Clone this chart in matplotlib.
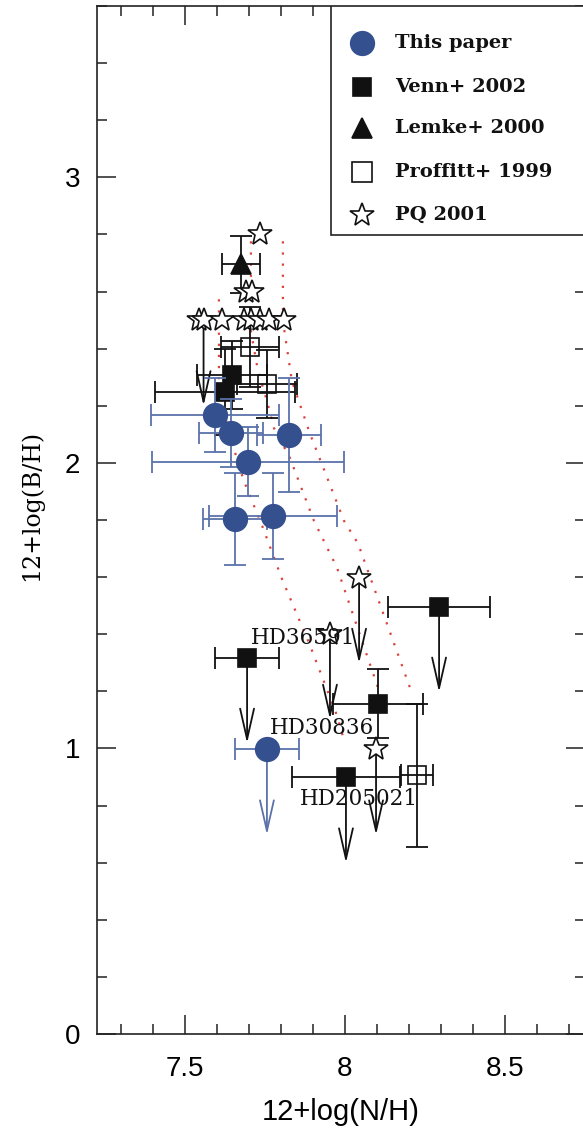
import matplotlib
matplotlib.use('Agg')
import matplotlib.pyplot as plt
from matplotlib.patches import Rectangle
from matplotlib.ticker import MultipleLocator, FormatStrFormatter

# ---------------- data ----------------
# This paper
this_x = [7.594, 7.644, 7.825, 7.697, 7.656, 7.775, 7.756]
this_y = [2.168, 2.105, 2.098, 2.004, 1.804, 1.815, 0.997]
this_xerr = [0.20, 0.10, 0.10, 0.30, 0.10, 0.20, 0.10]
this_yerr = [0.13, 0.12, 0.20, 0.12, 0.16, 0.15, 0.0]
this_lim = [False, False, False, False, False, False, True]

# Venn+ 2002
venn_x = [7.647, 7.625, 8.294, 7.694, 8.103, 8.003]
venn_y = [2.308, 2.248, 1.497, 1.318, 1.157, 0.899]
venn_xerr = [0.11, 0.22, 0.16, 0.10, 0.14, 0.17]
venn_yerr = [0.12, 0.15, 0.0, 0.0, 0.12, 0.0]
venn_lim = [False, False, True, True, False, True]

# Lemke+ 2000
lemke_x = [7.675]
lemke_y = [2.696]
lemke_xerr = [0.06]
lemke_yerr = [0.10]

# Proffitt+ 1999
prof_x = [7.703, 7.756, 8.225]
prof_y = [2.406, 2.276, 0.906]
prof_xerr = [0.09, 0.095, 0.05]
prof_yerr = [0.14, 0.12, 0.25]

# PQ 2001
pq_x = [7.734, 7.690, 7.710, 7.545, 7.558, 7.616, 7.684, 7.706, 7.734, 7.762, 7.810, 8.044, 7.953, 8.097]
pq_y = [2.80, 2.60, 2.60, 2.50, 2.50, 2.50, 2.50, 2.50, 2.50, 2.50, 2.50, 1.598, 1.402, 0.997]
pq_lim = [False, False, False, False, True, False, False, False, False, False, False, True, True, True]

# model tracks (red dotted)
track1_x = [7.606, 7.606, 7.625, 7.647, 7.684, 7.741, 7.803, 7.891, 7.975, 8.000]
track1_y = [2.573, 2.287, 2.164, 2.070, 1.937, 1.780, 1.594, 1.360, 1.115, 1.017]
track2_x = [7.706, 7.706, 7.728, 7.756, 7.778, 7.828, 7.903, 7.975, 8.103]
track2_y = [2.776, 2.462, 2.322, 2.217, 2.122, 2.017, 1.797, 1.633, 1.213]
track3_x = [7.806, 7.806, 7.834, 7.891, 7.997, 8.041, 8.203]
track3_y = [2.776, 2.497, 2.287, 2.101, 1.797, 1.717, 1.213]

star_names = ["HD36591", "HD30836", "HD205021"]
name_x = [7.706, 7.766, 7.859]
name_y = [1.388, 1.070, 0.822]

legend_labels = ["This paper", "Venn+ 2002", "Lemke+ 2000", "Proffitt+ 1999", "PQ 2001"]

x_ticks = [7.5, 8.0, 8.5]
y_ticks = [0, 1, 2, 3]

# ---------------- style ----------------
BLUE = '#34508f'
BLUE_ERR = '#5a72aa'
BLACK = '#111111'
RED = '#d9443f'
LIM_LEN = 0.3

fig = plt.figure(figsize=(5.83, 11.29), dpi=100)
ax = fig.add_axes([97/583, (1129-1034)/1129, 488/583, 1028/1129])
ax.set_xlim(7.225, 8.75)
ax.set_ylim(0, 3.6)

for tx, ty in [(track1_x, track1_y), (track2_x, track2_y), (track3_x, track3_y)]:
    ax.plot(tx, ty, linestyle=(0, (1, 4)), color=RED, lw=1.6, zorder=1)


def draw_group(xs, ys, xerrs, yerrs, lims, ecolor, marker, ms, mfc, mec, zo):
    for x, y, xe, ye, lim in zip(xs, ys, xerrs, yerrs, lims):
        ax.errorbar([x], [y], xerr=[xe] if xe > 0 else None,
                    yerr=[ye] if ye > 0 else None,
                    fmt='none', ecolor=ecolor, elinewidth=1.3,
                    capsize=8, capthick=1.3, zorder=zo)
        if lim:
            ax.annotate('', xy=(x, y - LIM_LEN), xytext=(x, y),
                        arrowprops=dict(arrowstyle='->,head_length=2.2,head_width=0.5',
                                        color=ecolor, lw=1.3, shrinkA=0, shrinkB=0,
                                        mutation_scale=10),
                        zorder=zo)
    ax.plot(xs, ys, linestyle='none', marker=marker, ms=ms, mfc=mfc, mec=mec,
            mew=1.2, zorder=zo + 0.5)


draw_group(prof_x, prof_y, prof_xerr, prof_yerr, [False]*len(prof_x), BLACK, 's', 13.5, 'none', BLACK, 3)
draw_group(venn_x, venn_y, venn_xerr, venn_yerr, venn_lim, BLACK, 's', 12.5, BLACK, BLACK, 4)
draw_group(lemke_x, lemke_y, lemke_xerr, lemke_yerr, [False], BLACK, '^', 15, BLACK, BLACK, 4)
draw_group(pq_x, pq_y, [0]*len(pq_x), [0]*len(pq_x), pq_lim, BLACK, '*', 18, 'white', BLACK, 5)
draw_group(this_x, this_y, this_xerr, this_yerr, this_lim, BLUE_ERR, 'o', 17, BLUE, BLUE, 6)

for name, nx, ny in zip(star_names, name_x, name_y):
    ax.text(nx, ny, name, ha='left', va='center', fontsize=15.5,
            family='DejaVu Serif', color=BLACK, zorder=7)

# legend box (manual)
lx0 = (331 - 97) / 488
ly0 = (1034 - 235) / 1028
ax.add_patch(Rectangle((lx0, ly0), 1.2 - lx0, 1.0 - ly0, transform=ax.transAxes,
                       facecolor='white', edgecolor='#222222', lw=1.2, zorder=8))
leg_styles = [
    dict(marker='o', ms=17, mfc=BLUE, mec=BLUE),
    dict(marker='s', ms=13.5, mfc=BLACK, mec=BLACK),
    dict(marker='^', ms=15, mfc=BLACK, mec=BLACK),
    dict(marker='s', ms=14, mfc='none', mec=BLACK),
    dict(marker='*', ms=18, mfc='white', mec=BLACK),
]
row_px = [43, 87, 128, 172, 215]
for lab, st, rp in zip(legend_labels, leg_styles, row_px):
    yy = (1034 - rp) / 1028
    ax.plot([(362 - 97) / 488], [yy], transform=ax.transAxes, linestyle='none',
            mew=1.2, zorder=9, clip_on=False, **st)
    ax.text((395 - 97) / 488, yy, lab, transform=ax.transAxes, ha='left', va='center',
            fontsize=14, fontweight='bold', family='DejaVu Serif', color=BLACK, zorder=9)

# axes style
ax.xaxis.set_major_locator(MultipleLocator(0.5))
ax.xaxis.set_minor_locator(MultipleLocator(0.1))
ax.yaxis.set_major_locator(MultipleLocator(1))
ax.yaxis.set_minor_locator(MultipleLocator(0.2))
ax.set_xticks(x_ticks)
ax.set_yticks(y_ticks)
ax.xaxis.set_major_formatter(FormatStrFormatter('%g'))
ax.yaxis.set_major_formatter(FormatStrFormatter('%g'))
ax.tick_params(which='both', direction='in', top=True, right=True, width=1.1, color='#222222')
ax.tick_params(which='major', length=14)
ax.tick_params(which='minor', length=7.5)
ax.tick_params(axis='x', which='major', pad=16, labelsize=20)
ax.tick_params(axis='y', which='major', pad=12, labelsize=20)
for lbl in ax.get_xticklabels() + ax.get_yticklabels():
    lbl.set_family('Liberation Sans')
for sp in ax.spines.values():
    sp.set_linewidth(1.2)
    sp.set_color('#222222')

ax.set_xlabel('12+log(N/H)', fontsize=21, family='Liberation Sans')
ax.xaxis.set_label_coords(0.5, -0.062)
fig.text(31/583, 1 - 505/1129, '12+log(B/H)', rotation=90, ha='center', va='center',
         fontsize=17, family='DejaVu Serif')

fig.savefig('out.png', dpi=100)
